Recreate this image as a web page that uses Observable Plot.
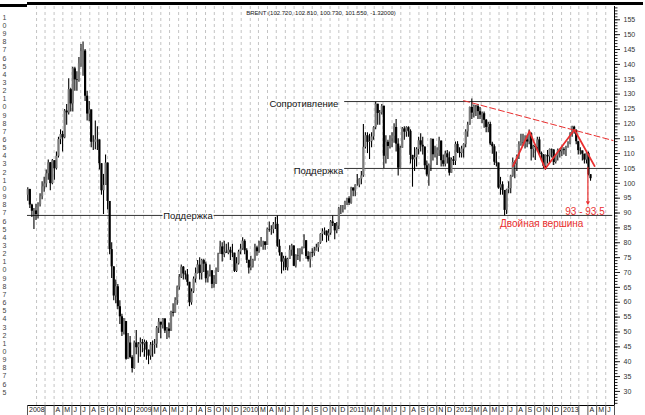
<!DOCTYPE html>
<html><head><meta charset="utf-8">
<script src="https://cdn.jsdelivr.net/npm/d3@7"></script>
<script src="https://cdn.jsdelivr.net/npm/@observablehq/plot@0.6"></script>
<style>
html,body{margin:0;padding:0;background:#fff;}
#wrap{position:relative;width:645px;height:415px;overflow:hidden;background:#fff;}
#wrap svg{position:absolute;left:0;top:0;}
.bar{position:absolute;background:#000;}
</style></head><body><div id="wrap"></div>
<script>
const title = "BRENT (102.720, 102.810, 100.730, 101.550, -1.32000)";
const firstFriday = "2008-01-04";
const firstOpen = 96.0;

// weekly closes (Jan 2008 .. Apr 2013)
const closes = [
 97.9,92.7,90.6,90.7, 89.5,92.8,95.5,98.8,99.8, 103.2,106.9,99.9,107.6, 104.9,109.1,114.7,116.4,
 115.3,124.3,123.7,131.5,126.7, 138.5,134.8,134.6,140.2, 144.3,144.5,129.3,123.3, 124.7,113.8,113.8,114.6,114.6,
 106.6,97.5,99.3,106.8, 93.9,77.7,71.9,62.1,65.2, 58.5,55.1,49.9,53.5, 40.8,46.3,41.4,37.7,
 46.3,44.7,45.7,46.4,46.0, 46.5,43.9,41.9,45.6, 45.5,45.9,51.3,53.3, 52.3,54.4,50.3,51.0,
 50.2,56.6,56.3,60.6,65.1, 68.4,71.8,69.5,69.2, 66.7,59.8,63.5,67.8,69.7, 72.5,69.7,74.0,72.8,
 67.9,69.2,70.6,66.0, 66.1,70.4,76.1,78.6,76.0, 76.8,76.5,77.5,76.6, 76.5,70.4,72.9,76.9,77.9,
 80.5,77.3,74.1,71.5, 71.9,74.1,78.3,77.0, 79.2,80.3,80.3,79.1, 84.5,84.3,84.4,86.1,86.2,
 78.8,76.6,73.5,74.6, 71.6,74.4,77.5,78.9, 72.1,75.6,75.5,77.7,78.4, 80.7,75.4,74.3,76.7,
 76.5,77.2,78.3,79.9, 82.8,83.7,83.9,82.3,83.2, 87.0,86.5,84.0,85.6, 91.4,91.4,91.5,93.5,94.8,
 93.3,98.4,97.4,99.4, 99.4,101.4,102.5,112.1, 116.0,113.8,114.0,115.6, 118.7,126.6,123.5,123.7,125.9,
 109.1,113.8,112.4,115.0, 115.8,118.8,113.2,105.1, 111.8,118.3,117.2,118.7,117.5, 109.4,107.9,108.6,111.4,
 114.3,112.8,112.2,105.9,102.8, 105.9,114.8,109.6,109.9, 111.0,114.2,107.6,106.4, 109.9,108.6,103.4,107.9,107.4,
 113.1,110.4,110.0,111.5, 113.0,117.3,119.6,125.5, 123.6,125.9,125.8,124.1,122.9, 123.4,121.2,118.8,119.8,
 113.2,112.3,107.1,106.8, 98.4,99.5,97.6,90.9,97.8, 98.2,102.4,107.0,106.5, 109.0,113.0,113.7,113.6,114.6,
 113.9,116.7,111.4,112.4, 112.0,114.6,110.1,109.6, 105.7,109.4,108.9,111.4,111.2, 107.0,109.2,111.1,110.6,
 111.3,111.0,111.9,113.3, 116.8,118.9,117.7,114.0, 111.0,110.9,109.8,107.8,110.0, 102.9,101.55
];
const highs = [
 98.5,98.0,93.0,91.5, 93.0,93.5,96.5,100.5,102.0, 104.5,107.8,107.0,108.0, 106.5,110.5,115.5,118.0,
 117.5,124.8,126.5,135.2,132.0, 139.0,139.0,137.5,142.3, 146.7,147.5,145.0,131.0, 127.5,124.5,116.0,121.0,119.0,
 113.0,104.0,103.0,109.5, 100.5,90.0,80.0,71.0,67.5, 66.0,60.5,56.0,54.5, 50.0,49.5,48.5,42.0,
 47.0,50.5,46.5,48.0,47.5, 47.3,47.0,43.5,46.5, 47.0,47.5,51.8,54.5, 53.2,54.5,54.0,51.5,
 53.0,57.0,59.5,61.5,65.5, 69.3,72.5,72.0,70.5, 71.0,66.0,64.5,68.5,71.5, 74.0,75.0,74.5,74.5,
 73.5,70.5,72.5,70.5, 69.0,71.5,76.5,80.5,80.0, 80.5,79.5,80.0,78.5, 79.5,76.5,75.0,77.5,79.5,
 81.7,81.0,78.0,74.0, 75.5,74.5,79.5,78.8, 80.5,81.8,80.5,79.5, 85.0,87.0,85.7,86.8,88.5,
 89.0,81.0,76.0,75.5, 75.5,74.8,79.0,79.5, 79.0,76.0,78.0,78.0,78.6, 82.7,80.5,77.0,76.8,
 78.0,78.5,79.5,80.0, 83.0,84.7,85.0,84.0,84.5, 87.5,89.0,86.0,86.8, 91.9,92.5,92.5,94.0,95.0,
 95.5,98.7,98.5,99.5, 103.0,101.5,104.0,119.8, 117.0,117.0,116.5,117.0, 119.0,127.3,126.5,124.5,126.5,
 126.0,116.0,114.5,116.0, 117.0,120.0,121.5,115.0, 112.5,118.8,119.0,119.0,119.0, 118.0,109.0,112.0,112.0,
 115.5,116.7,115.5,112.0,107.5, 106.5,115.0,114.5,112.5, 112.0,115.5,114.0,109.5, 110.8,111.0,110.5,108.5,109.0,
 113.9,114.0,112.0,112.5, 113.3,118.0,120.5,125.7, 128.4,126.3,126.2,126.5,125.5, 124.0,124.0,121.5,120.5,
 120.5,113.8,113.0,110.5, 104.0,102.0,100.5,97.5,98.0, 100.5,102.7,108.5,107.5, 109.5,114.0,116.5,116.5,116.0,
 116.0,117.9,117.0,112.8, 113.0,115.5,115.5,110.5, 109.5,109.5,111.0,111.5,111.5, 111.3,109.5,111.5,111.5,
 112.5,112.0,112.5,114.0, 117.0,119.2,119.2,118.0, 114.0,112.0,110.5,109.5,110.4, 110.5,102.8
];
const lows = [
 94.0,91.5,88.5,84.5, 87.5,88.0,92.0,94.5,97.0, 98.5,101.0,97.5,99.5, 101.0,104.5,108.5,113.0,
 110.5,115.0,119.5,123.0,124.0, 124.0,131.0,131.0,134.0, 139.0,136.0,127.5,121.0, 120.7,112.0,111.0,111.3,111.0,
 104.5,96.0,89.5,100.5, 91.0,76.0,68.0,60.5,59.5, 57.5,52.5,48.5,49.0, 40.5,41.0,41.0,36.2,
 37.5,42.3,39.5,41.5,43.0, 41.5,40.5,39.0,40.5, 41.5,42.5,44.5,49.5, 47.7,51.0,49.5,47.5,
 48.0,52.0,55.0,56.5,59.0, 64.0,68.0,67.5,67.5, 65.5,58.5,59.0,63.0,66.5, 69.5,67.5,67.5,70.0,
 66.5,66.5,68.5,64.5, 64.7,66.0,70.0,76.5,73.5, 75.0,76.5,76.0,74.0, 75.0,70.0,70.0,72.5,76.0,
 77.5,76.0,73.0,69.5, 70.6,71.5,73.8,75.5, 76.5,78.5,77.5,77.5, 81.5,83.5,82.5,83.0,84.5,
 78.5,75.5,69.5,70.5, 70.7,70.5,74.5,75.5, 72.0,71.5,74.0,73.5,76.0, 78.0,74.5,73.5,71.5,
 75.0,75.5,77.5,76.8, 79.5,80.5,82.5,80.0,80.5, 82.5,85.5,81.0,83.0, 84.5,89.5,90.0,91.0,92.5,
 92.5,93.0,95.5,95.5, 99.0,98.5,99.5,102.0, 111.5,110.0,108.0,112.0, 114.5,118.0,119.5,119.5,123.0,
 105.0,106.5,108.0,111.5, 112.0,113.5,110.5,102.5, 105.5,112.0,114.5,115.5,115.5, 106.5,98.7,104.0,105.5,
 109.5,110.5,109.5,104.5,102.2, 99.0,104.0,107.5,108.5, 106.0,109.0,105.5,105.5, 105.5,106.5,102.5,103.5,106.0,
 106.0,110.0,108.5,108.5, 108.5,112.0,115.5,119.5, 121.5,122.0,122.5,121.5,121.5, 120.0,118.5,117.0,117.0,
 112.7,109.8,106.0,105.5, 98.0,96.0,96.0,89.0,89.5, 96.5,96.5,102.0,101.5, 104.0,108.0,112.5,112.5,111.5,
 112.0,113.0,107.5,108.5, 107.7,110.5,109.5,107.5, 105.0,104.4,106.5,107.0,108.5, 106.0,106.5,107.5,108.5,
 109.0,109.5,109.0,112.0, 113.0,115.5,116.5,113.0, 109.5,109.5,107.5,106.5,106.5, 102.5,100.7
];

// axis ticks / labels
const yTicks = [30,35,40,45,50,55,60,65,70,75,80,85,90,95,100,105,110,115,120,125,130,135,140,145,150,155];
const monthLetters = ["J","F","M","A","M","J","J","A","S","O","N","D"];
const hiddenMonthLabels = ["2008-02","2008-03","2009-02","2010-02","2011-02","2012-02","2013-02","2013-03"];
const leftDigits = ["1","0","9","8","7","6","5","4","3","2","1","0","9","8","7","6","5","4","3","2",
 "1","0","9","8","7","6","5","4","3","2","1","0","9","8","7","6","5","4","3","2","1","0","9","8","7","6","5"];

// annotation levels
const levelValues = [127.5, 105.0, 89.2];
const levelStarts = ["2010-12-21", "2010-12-21", "2008-01-01"];
const levelEnds = ["2013-06-25", "2013-06-25", "2013-06-25"];
const levelNames = ["Сопротивление", "Поддержка", "Поддержка"];
const levelLabelDates = ["2010-11-29", "2010-12-16", "2009-04-09"];

const trendDates = ["2012-02-01", "2013-06-26"];
const trendValues = [127.8, 114.4];
const zigzagDates = ["2012-07-19", "2012-09-13", "2012-11-06", "2013-02-14", "2013-04-24"];
const zigzagValues = [105.8, 117.5, 104.9, 118.0, 105.8];
const targetDate = "2013-04-01";
const targetFrom = 105.4, targetTo = 93.1;
const targetText = "93 - 93.5", targetTextDate = "2013-03-22", targetTextValue = 90.4;
const patternText = "Двойная вершина", patternTextDate = "2012-10-25", patternTextValue = 86.5;

const red = "#ea2f2f";
const font = "Arial, 'Liberation Sans', sans-serif";
const D = s => new Date(s);

const start = D(firstFriday);
const weeks = closes.map((c, i) => {
  const o = i ? closes[i - 1] : firstOpen;
  return {
    date: d3.utcDay.offset(start, 7 * i - 2),
    open: o, close: c,
    high: Math.max(highs[i], o, c),
    low: Math.min(lows[i], o, c)
  };
});
const up = weeks.filter(d => d.close >= d.open);
const down = weeks.filter(d => d.close < d.open);

const xDomain = [D("2008-01-01"), D("2013-07-01")];
const yDomain = [25.27, 159.47];
const months = d3.utcMonth.range(xDomain[0], d3.utcMonth.offset(xDomain[1], 1));
const gridMonths = months.slice(1, -1);
const key = d => d3.utcFormat("%Y-%m")(d);
const tickMonths = months.filter(d => d.getUTCMonth() !== 1);
const labelMonths = months.slice(0, -1).filter(d => !hiddenMonthLabels.includes(key(d)));
const monthLabel = d => d.getUTCMonth() === 0 ? String(d.getUTCFullYear()) : monthLetters[d.getUTCMonth()];

const levels = levelValues.map((v, i) => ({value: v, from: D(levelStarts[i]), to: D(levelEnds[i]), name: levelNames[i], at: D(levelLabelDates[i])}));

const main = Plot.plot({
  width: 645, height: 415,
  marginLeft: 27, marginRight: 31, marginTop: 6, marginBottom: 10,
  style: {fontFamily: font, fontSize: "7px", background: "transparent", overflow: "visible"},
  x: {type: "utc", domain: xDomain, axis: null},
  y: {domain: yDomain, axis: null},
  marks: [
    Plot.ruleX(gridMonths, {x: d => d, stroke: "#c4c4c4", strokeDasharray: "3,3", strokeWidth: 1}),
    Plot.ruleY(levels, {y: "value", x1: "from", x2: "to", stroke: "#333", strokeWidth: 1}),
    Plot.ruleX(weeks, {x: "date", y1: "low", y2: "high", stroke: "#000", strokeWidth: 1.1}),
    Plot.ruleX(up, {x: "date", y1: "open", y2: "close", stroke: "#7a7a7a", strokeWidth: 2.2}),
    Plot.ruleX(down, {x: "date", y1: "open", y2: "close", stroke: "#000", strokeWidth: 2.2}),
    Plot.line(trendDates.map((d, i) => ({date: D(d), value: trendValues[i]})), {x: "date", y: "value", stroke: red, strokeWidth: 1, strokeDasharray: "6,3"}),
    Plot.line(zigzagDates.map((d, i) => ({date: D(d), value: zigzagValues[i]})), {x: "date", y: "value", stroke: red, strokeWidth: 1.8}),
    Plot.arrow([{d: D(targetDate), a: targetFrom, b: targetTo}], {x1: "d", x2: "d", y1: "a", y2: "b", stroke: red, strokeWidth: 1.2, headLength: 3}),
    Plot.text([targetText], {x: () => D(targetTextDate), y: () => targetTextValue, text: d => d, fill: red, fontSize: 10, textAnchor: "middle"}),
    Plot.text([patternText], {x: () => D(patternTextDate), y: () => patternTextValue, text: d => d, fill: red, fontSize: 10, textAnchor: "middle"}),
    Plot.text(levels.slice(0, 2), {x: "at", y: "value", text: "name", textAnchor: "end", dy: 2.5, fontSize: 9.5, fill: "#111"}),
    Plot.text(levels.slice(2), {x: "at", y: "value", text: "name", textAnchor: "start", dy: 1, fontSize: 9.5, fill: "#111", stroke: "white", strokeWidth: 3}),
    Plot.text([title], {frameAnchor: "top", text: d => d, dy: 4, fontSize: 6, fill: "#222"}),
    Plot.ruleY([yDomain[0]], {x1: () => xDomain[0], x2: () => xDomain[1], stroke: "#000"}),
    Plot.ruleX([xDomain[1]], {x: d => d, stroke: "#000"}),
    Plot.axisX({ticks: tickMonths, tickSize: 10, tickFormat: () => "", stroke: "#555"}),
    Plot.text(labelMonths, {x: d => d, text: monthLabel, frameAnchor: "bottom", textAnchor: "start", lineAnchor: "top", dx: 1.5, dy: 1.5, fontSize: 7, fill: "#222"}),
    Plot.axisY({anchor: "right", ticks: d3.range(26, 160), tickSize: 2.5, tickFormat: () => "", stroke: "#222"}),
    Plot.axisY({anchor: "right", ticks: yTicks, tickSize: 5, tickPadding: 4, fontSize: 7, fill: "#333", stroke: "#222"})
  ]
});

const left = Plot.plot({
  width: 6, height: 415,
  marginLeft: 0, marginRight: 0, marginTop: 17, marginBottom: 23,
  style: {fontFamily: font, fontSize: "7px", background: "transparent", overflow: "visible"},
  y: {domain: [0, leftDigits.length - 1], reverse: true, axis: null},
  marks: [Plot.text(leftDigits, {y: (d, i) => i, text: d => d, frameAnchor: "right", textAnchor: "end", fill: "#444", fontSize: 7})]
});

const wrap = document.getElementById("wrap");
wrap.appendChild(main);
wrap.appendChild(left);
const b1 = document.createElement("div"); b1.className = "bar";
b1.style.cssText = "left:0;top:4px;width:27px;height:3px;";
const b2 = document.createElement("div"); b2.className = "bar";
b2.style.cssText = "left:27px;top:2px;width:616px;height:2.5px;";
wrap.appendChild(b1); wrap.appendChild(b2);
</script>
</body></html>
